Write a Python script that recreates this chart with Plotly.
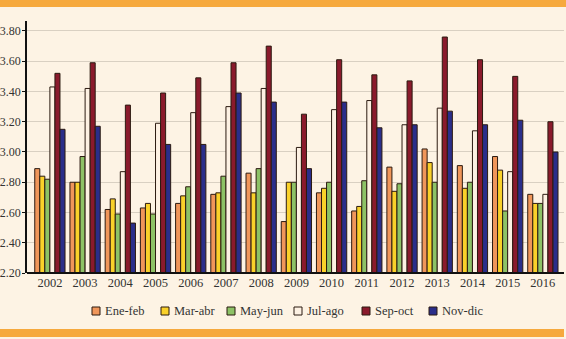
import plotly.graph_objects as go

years = ["2002","2003","2004","2005","2006","2007","2008","2009","2010","2011","2012","2013","2014","2015","2016"]
ene_feb = [2.89,2.80,2.62,2.63,2.66,2.72,2.86,2.54,2.73,2.61,2.90,3.02,2.91,2.97,2.72]
mar_abr = [2.84,2.80,2.69,2.66,2.71,2.73,2.73,2.80,2.76,2.64,2.74,2.93,2.76,2.88,2.66]
may_jun = [2.82,2.97,2.59,2.59,2.77,2.84,2.89,2.80,2.80,2.81,2.79,2.80,2.80,2.61,2.66]
jul_ago = [3.43,3.42,2.87,3.19,3.26,3.30,3.42,3.03,3.28,3.34,3.18,3.29,3.14,2.87,2.72]
sep_oct = [3.52,3.59,3.31,3.39,3.49,3.59,3.70,3.25,3.61,3.51,3.47,3.76,3.61,3.50,3.20]
nov_dic = [3.15,3.17,2.53,3.05,3.05,3.39,3.33,2.89,3.33,3.16,3.18,3.27,3.18,3.21,3.00]
y_ticks = [2.2, 2.4, 2.6, 2.8, 3.0, 3.2, 3.4, 3.6, 3.8]

series = [
    ("Ene-feb", ene_feb, "#F0965A"),
    ("Mar-abr", mar_abr, "#FAD12A"),
    ("May-jun", may_jun, "#8DC266"),
    ("Jul-ago", jul_ago, "#FDF1E3"),
    ("Sep-oct", sep_oct, "#8A1A2C"),
    ("Nov-dic", nov_dic, "#2A2E8A"),
]
outline = "#2B1A10"

fig = go.Figure()
for name, vals, col in series:
    fig.add_trace(go.Bar(
        x=years, y=vals, name=name, showlegend=False,
        marker=dict(color=col, line=dict(color=outline, width=1)),
    ))

W, H = 566, 339
ml, mr, mt, mb = 27, 2, 21, 66
pw, ph = W - ml - mr, H - mt - mb
bg = "#FDF3E4"
orange = "#F6A93D"

def px_x(px):
    return (px - ml) / pw

def px_y(py):
    return (H - mb - py) / ph

shapes = [
    dict(type="rect", xref="paper", yref="paper",
         x0=px_x(0), x1=px_x(W), y0=px_y(7), y1=px_y(0),
         fillcolor=orange, line=dict(width=0), layer="below"),
    dict(type="rect", xref="paper", yref="paper",
         x0=px_x(0), x1=px_x(564), y0=px_y(337), y1=px_y(329),
         fillcolor=orange, line=dict(width=0), layer="below"),
    dict(type="line", xref="paper", yref="paper",
         x0=0, x1=1, y0=0, y1=0, line=dict(color="#111111", width=2)),
]
annotations = []
legend_x = [92, 161, 227, 294, 362, 429]
for (name, vals, col), lx in zip(series, legend_x):
    shapes.append(dict(type="rect", xref="paper", yref="paper",
                       x0=px_x(lx), x1=px_x(lx + 8), y0=px_y(315), y1=px_y(307),
                       fillcolor=col, line=dict(color=outline, width=1)))
    annotations.append(dict(xref="paper", yref="paper", x=px_x(lx + 11), y=px_y(311),
                            text=name, showarrow=False, xanchor="left", yanchor="middle",
                            font=dict(size=12.5, family="Liberation Serif", color="#333333")))

fig.update_layout(
    width=W, height=H,
    margin=dict(l=ml, r=mr, t=mt, b=mb),
    paper_bgcolor=bg, plot_bgcolor=bg,
    barmode="group", bargap=0.14, bargroupgap=0.0,
    font=dict(family="Liberation Serif", size=12.5, color="#333333"),
    showlegend=False,
    xaxis=dict(type="category", range=[-0.65, 14.6], showgrid=False, showline=False,
               ticks="", zeroline=False, automargin=False),
    yaxis=dict(range=[2.2, 3.866], tickmode="array", tickvals=y_ticks,
               tickformat=".2f", tickfont=dict(size=12),
               showgrid=True, gridcolor="#D9D0C2", gridwidth=1,
               showline=True, linecolor="#111111", linewidth=1.5,
               ticks="outside", ticklen=3, tickcolor="#111111",
               ticklabelstandoff=-1,
               zeroline=False, automargin=False),
    shapes=shapes,
    annotations=annotations,
)

fig.write_html("out.html", config={"displayModeBar": False},
               post_script="document.body.style.margin='0';document.body.style.background='" + bg + "';")
